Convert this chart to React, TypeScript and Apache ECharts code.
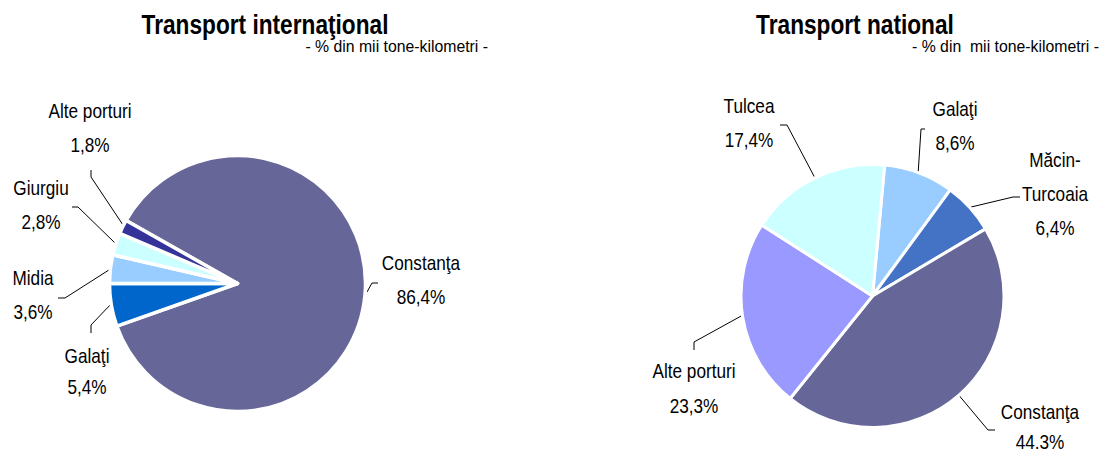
import React, { useEffect, useRef } from "react";
import * as echarts from "echarts";

// ---- Data ----
const intlCategories = ["Constanţa", "Galaţi", "Midia", "Giurgiu", "Alte porturi"];
const intlValues = [86.4, 5.4, 3.6, 2.8, 1.8];
const intlPctText = ["86,4%", "5,4%", "3,6%", "2,8%", "1,8%"];

const natCategories = ["Galaţi", "Măcin-\nTurcoaia", "Constanţa", "Alte porturi", "Tulcea"];
const natValues = [8.6, 6.4, 44.3, 23.3, 17.4];
const natPctText = ["8,6%", "6,4%", "44.3%", "23,3%", "17,4%"];

const intlTitle = "Transport internaţional";
const natTitle = "Transport national";
const intlSubtitle = "- % din mii tone-kilometri -";
const natSubtitle = "- % din  mii tone-kilometri -";

// ---- Styles ----
const intlColors = ["#666699", "#0066CC", "#99CCFF", "#CCFFFF", "#333399"];
const natColors = ["#99CCFF", "#4472C4", "#666699", "#9999FF", "#CCFFFF"];

const FONT = "'Liberation Sans', Arial, sans-serif";
const NARROW = 0.86;

// label layout (label centre, line gap, leader line), per data index
const intlLabelLayout = [
  { x: 421, y: 280, gap: 34, line: [[367, 292], [372, 283], [378, 283]] },
  { x: 87, y: 372, gap: 31, line: [[112, 303], [91, 325], [91, 333]] },
  { x: 33, y: 295, gap: 34, line: [[112, 268], [65, 298], [58, 298]] },
  { x: 41, y: 205, gap: 34, line: [[115, 243], [78, 207], [72, 207]] },
  { x: 90, y: 128, gap: 34, line: [[123, 225], [91, 177], [91, 170]] },
];
const natLabelLayout = [
  { x: 955, y: 126, gap: 34, line: [[918, 175], [921, 129], [925, 129]] },
  { x: 1055, y: 194, gap: 34, line: [[967, 208], [1013, 197], [1020, 197]] },
  { x: 1040, y: 427, gap: 30, line: [[957, 393], [988, 430], [995, 430]] },
  { x: 694, y: 389, gap: 35, line: [[743, 315], [694, 342], [694, 350]] },
  { x: 749, y: 123, gap: 34, line: [[815, 178], [787, 125], [780, 125]] },
];

function buildLabels(cats: string[], pct: string[], layout: any[]) {
  const els: any[] = [];
  cats.forEach((name, i) => {
    const l = layout[i];
    const lines = [...name.split("\n"), pct[i]];
    const n = lines.length;
    lines.forEach((t, k) => {
      els.push({
        type: "text",
        x: l.x,
        y: l.y + (k - (n - 1) / 2) * l.gap,
        scaleX: NARROW,
        silent: true,
        style: {
          text: t,
          font: `20px ${FONT}`,
          fill: "#000",
          align: "center",
          verticalAlign: "middle",
        },
      });
    });
    els.push({
      type: "polyline",
      silent: true,
      shape: { points: l.line },
      style: { stroke: "#000", lineWidth: 1, fill: null },
    });
  });
  return els;
}

export default function App() {
  const ref = useRef<HTMLDivElement>(null);

  useEffect(() => {
    document.body.style.margin = "0";
    if (!ref.current) return;
    const chart = echarts.init(ref.current, undefined, { renderer: "svg" });

    const makeSeries = (
      cats: string[],
      vals: number[],
      colors: string[],
      center: number[],
      radius: number,
      startAngle: number,
      borderWidth: number
    ) => ({
      type: "pie",
      center,
      radius,
      startAngle,
      clockwise: true,
      avoidLabelOverlap: false,
      silent: true,
      itemStyle: { borderColor: "#ffffff", borderWidth },
      label: { show: false },
      labelLine: { show: false },
      data: cats.map((name, i) => ({
        name,
        value: vals[i],
        itemStyle: { color: colors[i] },
      })),
    });

    const titleEl = (text: string, x: number) => ({
      type: "text",
      x,
      y: 24,
      scaleX: 0.84,
      style: {
        text,
        font: `bold 27px ${FONT}`,
        fill: "#000",
        align: "center",
        verticalAlign: "middle",
      },
    });
    const subEl = (text: string, x: number) => ({
      type: "text",
      x,
      y: 46,
      style: {
        text,
        font: `15.8px ${FONT}`,
        fill: "#000",
        align: "right",
        verticalAlign: "middle",
      },
    });

    chart.setOption({
      animation: false,
      backgroundColor: "#ffffff",
      graphic: [
        titleEl(intlTitle, 265),
        subEl(intlSubtitle, 488),
        titleEl(natTitle, 855),
        subEl(natSubtitle, 1099),
        ...buildLabels(intlCategories, intlPctText, intlLabelLayout),
        ...buildLabels(natCategories, natPctText, natLabelLayout),
      ],
      series: [
        makeSeries(intlCategories, intlValues, intlColors, [237.5, 283.5], 128, 150.5, 3.5),
        makeSeries(natCategories, natValues, natColors, [872.5, 296], 131.5, 84.7, 3),
      ],
    });

    return () => chart.dispose();
  }, []);

  return <div ref={ref} style={{ width: 1106, height: 453 }} />;
}
